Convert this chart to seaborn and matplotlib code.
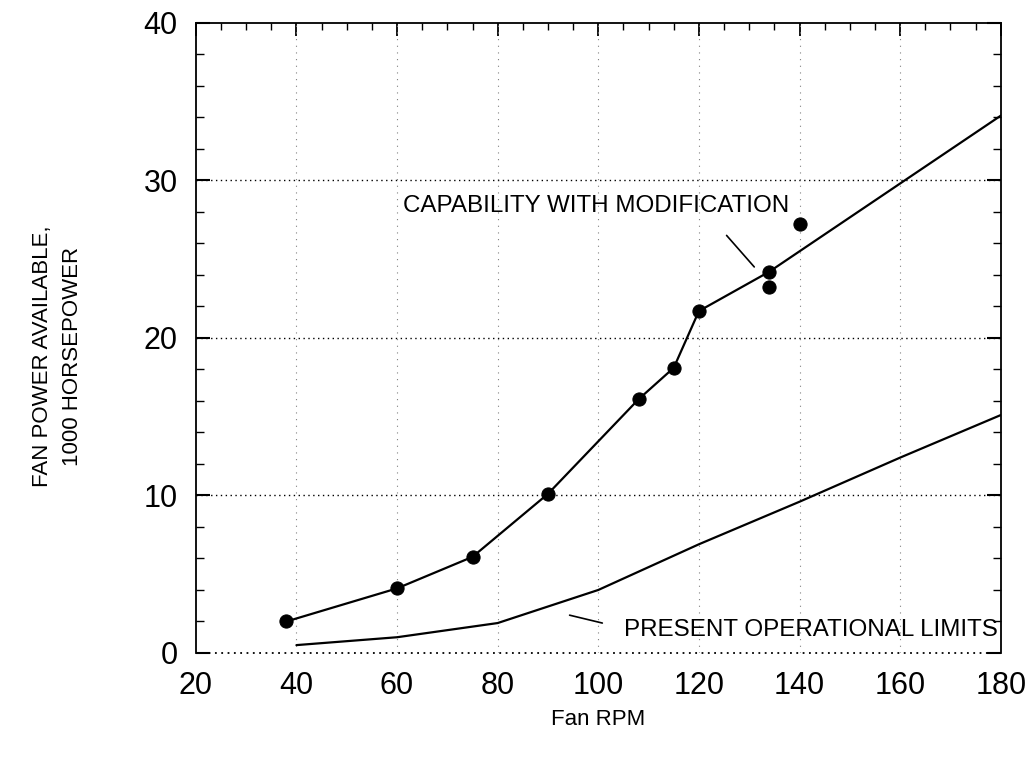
import matplotlib
matplotlib.use("Agg")
import matplotlib.pyplot as plt
import seaborn as sns
import pandas as pd
from matplotlib.ticker import MultipleLocator

sns.set_theme(style="white")
plt.rcParams['font.family'] = ['Liberation Sans', 'DejaVu Sans']
plt.rcParams['text.color'] = 'black'
plt.rcParams['axes.labelcolor'] = 'black'

# Capability with modification: line vertices
cap_line_rpm = [38, 60, 75, 90, 108, 115, 120, 134, 180]
cap_line_hp = [2.0, 4.1, 6.1, 10.1, 16.1, 18.1, 21.7, 24.2, 34.1]

# Measured points
pts_rpm = [38, 60, 75, 90, 108, 115, 120, 134, 134, 140]
pts_hp = [2.0, 4.1, 6.1, 10.1, 16.1, 18.1, 21.7, 24.2, 23.2, 27.2]

# Present operational limits
pres_rpm = [40, 60, 80, 100, 120, 140, 160, 180]
pres_hp = [0.5, 1.0, 1.9, 4.0, 6.9, 9.6, 12.4, 15.1]

x_ticks = [20, 40, 60, 80, 100, 120, 140, 160, 180]
y_ticks = [0, 10, 20, 30, 40]

fig = plt.figure(figsize=(10.36, 7.64), dpi=100)
ax = fig.add_axes([0.189, 0.1453, 0.777, 0.825])

cap_df = pd.DataFrame({"rpm": cap_line_rpm, "hp": cap_line_hp})
pts_df = pd.DataFrame({"rpm": pts_rpm, "hp": pts_hp})
pres_df = pd.DataFrame({"rpm": pres_rpm, "hp": pres_hp})

sns.lineplot(data=cap_df, x="rpm", y="hp", ax=ax, color="black", lw=1.6, sort=False)
sns.lineplot(data=pres_df, x="rpm", y="hp", ax=ax, color="black", lw=1.6, sort=False)
sns.scatterplot(data=pts_df, x="rpm", y="hp", ax=ax, color="black", s=90, edgecolor="black", zorder=5)

ax.set_xlim(20, 180)
ax.set_ylim(0, 40)
ax.set_xticks(x_ticks)
ax.set_yticks(y_ticks)
ax.xaxis.set_minor_locator(MultipleLocator(5))
ax.yaxis.set_minor_locator(MultipleLocator(2))

# Grid
for yv in [10, 20, 30]:
    ax.axhline(yv, color="black", lw=1.0, ls=(0, (1, 2.5)), zorder=1)
for xv in x_ticks[1:-1]:
    ax.axvline(xv, color="gray", lw=0.8, ls=(0, (1, 5)), zorder=1)

# Spines
for s in ["left", "top", "right"]:
    ax.spines[s].set_color("black")
    ax.spines[s].set_linewidth(1.3)
ax.spines["bottom"].set_visible(False)
ax.axhline(0, color="black", lw=1.3, ls=(0, (1, 2.5)), clip_on=False, zorder=2)

ax.tick_params(axis="both", which="both", direction="in", colors="black",
               labelcolor="black", labelsize=22, top=True, right=True, bottom=False, left=True)
ax.tick_params(axis="x", which="major", length=9, width=1.3, pad=13, labelbottom=True)
ax.tick_params(axis="x", which="minor", length=5, width=1.0)
ax.tick_params(axis="y", which="major", length=10, width=1.5, pad=13)
ax.tick_params(axis="y", which="minor", length=6, width=1.0)
ax.tick_params(axis="x", which="both", bottom=False)

ax.set_xlabel("Fan RPM", fontsize=16, labelpad=6, color="black")
ax.set_ylabel("FAN POWER AVAILABLE,\n1000 HORSEPOWER", fontsize=16, labelpad=45,
              linespacing=1.6, color="black")
ax.yaxis.set_label_coords(-0.14, 0.47)

# Annotations
ax.text(99.6, 28.35, "CAPABILITY WITH MODIFICATION", fontsize=17.4, ha="center", va="center", color="black")
ax.plot([125.5, 131], [26.5, 24.5], color="black", lw=1.2)
ax.text(142.3, 1.46, "PRESENT OPERATIONAL LIMITS", fontsize=17.4, ha="center", va="center", color="black")
ax.plot([94.3, 100.8], [2.4, 1.9], color="black", lw=1.2)

fig.savefig("out.png", dpi=100)
